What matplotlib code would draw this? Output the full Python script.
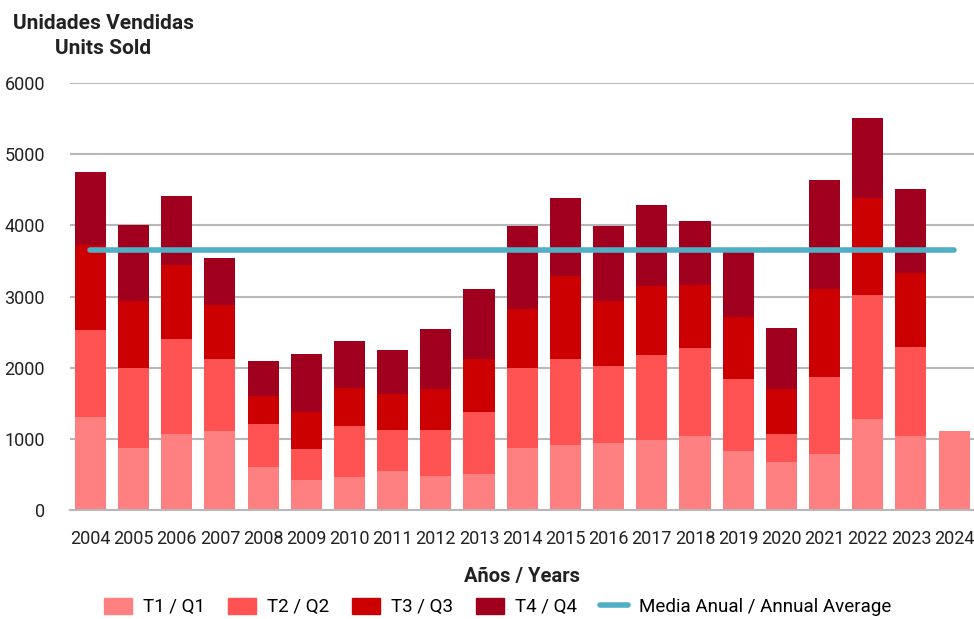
import numpy as np
import matplotlib
matplotlib.use("Agg")
from matplotlib import pyplot as plt
from matplotlib.lines import Line2D
from matplotlib.patches import Patch

plt.rcParams['font.family'] = ['Roboto', 'DejaVu Sans']

# values
years = ['2004', '2005', '2006', '2007', '2008', '2009', '2010', '2011', '2012', '2013', '2014',
         '2015', '2016', '2017', '2018', '2019', '2020', '2021', '2022', '2023', '2024']
q1 = [1311, 866, 1068, 1110, 609, 422, 468, 548, 482, 501, 866,
      913, 946, 984, 1044, 833, 670, 787, 1279, 1044, 1115]
q2 = [1218, 1134, 1330, 1007, 595, 440, 712, 576, 642, 872, 1125,
      1204, 1077, 1194, 1228, 1008, 398, 1086, 1742, 1251, 0]
q3 = [1195, 941, 1044, 763, 402, 511, 530, 506, 576, 744, 833,
      1175, 918, 969, 889, 875, 628, 1228, 1358, 1031, 0]
q4 = [1031, 1068, 970, 656, 492, 823, 665, 618, 843, 993, 1166,
      1087, 1049, 1138, 904, 951, 857, 1536, 1125, 1179, 0]
annual_average = 3650

colors = ['#FF8080', '#FF5252', '#CC0000', '#A0001E']
labels = ['T1 / Q1', 'T2 / Q2', 'T3 / Q3', 'T4 / Q4']
avg_color = '#4FAFC4'

fig = plt.figure(figsize=(9.74, 6.19), dpi=100)
ax = fig.add_axes([0.0719, 0.176, 0.9281, 0.690])

x = np.arange(len(years))
bottom = np.zeros(len(years))
for vals, col in zip([q1, q2, q3, q4], colors):
    ax.bar(x, vals, width=0.72, bottom=bottom, color=col, edgecolor='none', zorder=2)
    bottom += np.array(vals)

ax.plot(x, [annual_average] * len(x), color=avg_color, lw=4, solid_capstyle='round', zorder=3)

ax.set_xlim(-0.47, len(years) - 0.54)
ax.set_ylim(0, 6000)
ax.set_yticks(range(0, 6001, 1000))
ax.set_xticks(x)
ax.set_xticklabels(years, fontsize=13, color='#222222')
ax.tick_params(axis='y', labelsize=13, labelcolor='#222222', length=0, pad=18)
ax.tick_params(axis='x', length=0, pad=14)
ax.yaxis.grid(True, color='#B8B8B8', lw=1.5, zorder=0)
for s in ['top', 'right', 'left']:
    ax.spines[s].set_visible(False)
ax.spines['bottom'].set_color('#B8B8B8')
ax.spines['bottom'].set_linewidth(1.5)

ax.set_xlabel('Años / Years', fontsize=14.5, fontweight='bold', color='#222222', labelpad=14)
fig.text(0.106, 0.978, 'Unidades Vendidas\nUnits Sold', ha='center', va='top',
         fontsize=15, fontweight='bold', color='#222222', linespacing=1.45)

handles = [Patch(color=c, label=l) for c, l in zip(colors, labels)]
handles.append(Line2D([0], [0], color=avg_color, lw=4, solid_capstyle='round',
                      label='Media Anual / Annual Average'))
fig.legend(handles=handles, loc='center', bbox_to_anchor=(0.511, 0.019), ncol=5,
           frameon=False, fontsize=13.5, handlelength=1.5, handleheight=0.9,
           columnspacing=1.2, handletextpad=0.6)

fig.savefig('out.png', dpi=100)
